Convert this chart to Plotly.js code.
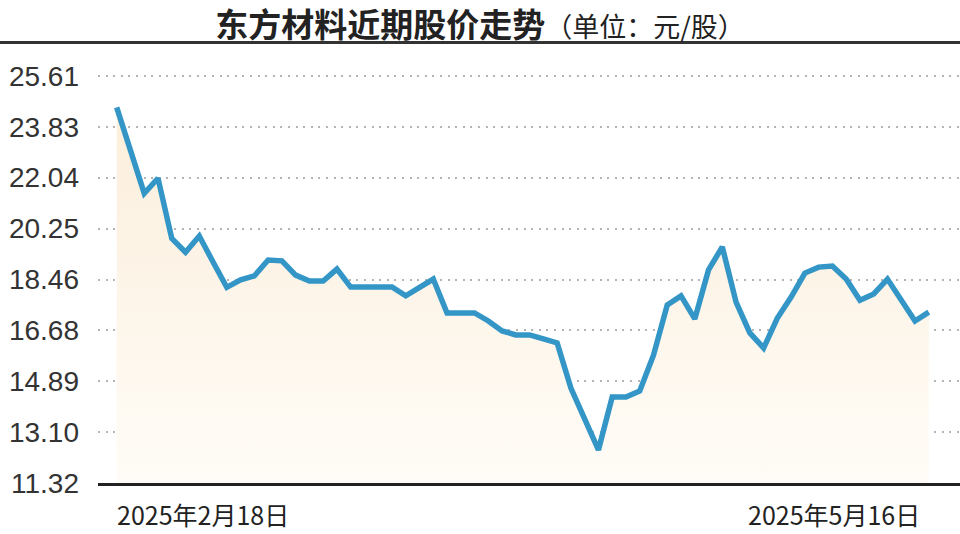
<!DOCTYPE html>
<html>
<head>
<meta charset="utf-8">
<script src="https://cdn.plot.ly/plotly-3.0.1.min.js"></script>
<style>html,body{margin:0;padding:0;background:#fff;}#chart{width:960px;height:534px;}</style>
</head>
<body>
<div id="chart"></div>
<script>
// Trading days (category axis)
const dates = [
  "2025-02-18","2025-02-19","2025-02-20","2025-02-21","2025-02-24","2025-02-25","2025-02-26","2025-02-27","2025-02-28",
  "2025-03-03","2025-03-04","2025-03-05","2025-03-06","2025-03-07","2025-03-10","2025-03-11","2025-03-12","2025-03-13","2025-03-14",
  "2025-03-17","2025-03-18","2025-03-19","2025-03-20","2025-03-21","2025-03-24","2025-03-25","2025-03-26","2025-03-27","2025-03-28","2025-03-31",
  "2025-04-01","2025-04-02","2025-04-03","2025-04-07","2025-04-08","2025-04-09","2025-04-10","2025-04-11","2025-04-14","2025-04-15",
  "2025-04-16","2025-04-17","2025-04-18","2025-04-21","2025-04-22","2025-04-23","2025-04-24","2025-04-25","2025-04-28","2025-04-29","2025-04-30",
  "2025-05-06","2025-05-07","2025-05-08","2025-05-09","2025-05-12","2025-05-13","2025-05-14","2025-05-15","2025-05-16"
];
// Closing prices (元/股)
const prices = [
  24.51, 22.96, 21.49, 22.02, 19.91, 19.42, 19.99, 19.08, 18.19, 18.45,
  18.59, 19.15, 19.12, 18.62, 18.41, 18.41, 18.83, 18.20, 18.20, 18.20,
  18.20, 17.89, 18.17, 18.48, 17.29, 17.29, 17.29, 17.01, 16.66, 16.52,
  16.52, 16.38, 16.24, 14.65, 13.57, 12.48, 14.34, 14.34, 14.55, 15.81,
  17.57, 17.89, 17.08, 18.80, 19.61, 17.67, 16.59, 16.06, 17.11, 17.85,
  18.69, 18.90, 18.94, 18.48, 17.74, 17.96, 18.48, 17.74, 17.01, 17.32
];
const yTickVals = [11.32, 13.10, 14.89, 16.68, 18.46, 20.25, 22.04, 23.83, 25.61];
const yTickText = ["11.32", "13.10", "14.89", "16.68", "18.46", "20.25", "22.04", "23.83", "25.61"];
const xLabels = ["2025年2月18日", "2025年5月16日"];
const titleMain = "东方材料近期股价走势";
const titleUnit = "（单位：元/股）";

const trace = {
  type: "scatter",
  mode: "lines",
  x: dates,
  y: prices,
  line: {color: "#3396c6", width: 5.5, shape: "linear"},
  fill: "tozeroy",
  fillgradient: {
    type: "vertical",
    start: 11.32,
    stop: 24.6,
    colorscale: [[0, "#fffcf7"], [1, "#fbeedb"]]
  },
  hoverinfo: "skip"
};

const layout = {
  width: 960,
  height: 534,
  margin: {l: 98, r: 0, t: 50, b: 51},
  paper_bgcolor: "#ffffff",
  plot_bgcolor: "#ffffff",
  showlegend: false,
  title: {
    text: "<b>" + titleMain + "</b><span style=\"font-size:27px;font-weight:normal\">" + titleUnit + "</span>",
    font: {family: "Noto Sans CJK SC", size: 33, color: "#222"},
    x: 0.5, xanchor: "center",
    y: 1 - 25/534, yanchor: "middle", yref: "container"
  },
  xaxis: {
    type: "category",
    range: [-1.359, 61.27],
    showgrid: false,
    zeroline: false,
    showline: true,
    linecolor: "#222",
    linewidth: 2.5,
    showticklabels: false,
    ticks: "",
    fixedrange: true
  },
  yaxis: {
    range: [11.32, 26.523],
    tickmode: "array",
    tickvals: yTickVals,
    ticktext: yTickText,
    showgrid: true,
    gridcolor: "#b4b4b4",
    gridwidth: 2,
    griddash: "2px,5.6px",
    zeroline: false,
    showline: false,
    ticks: "",
    ticklabelstandoff: 18,
    tickfont: {family: "Liberation Sans", size: 28, color: "#333"},
    fixedrange: true
  },
  shapes: [
    {type: "line", xref: "paper", yref: "paper", x0: -0.1137, x1: 1, y0: 1.0173, y1: 1.0173,
     line: {color: "#333", width: 3}}
  ],
  annotations: [
    {x: dates[0], y: -0.072, xref: "x", yref: "paper", xanchor: "left", yanchor: "middle",
     xshift: -2, text: xLabels[0], showarrow: false,
     font: {family: "Noto Sans CJK SC", size: 25, color: "#222"}},
    {x: dates[dates.length - 1], y: -0.072, xref: "x", yref: "paper", xanchor: "right", yanchor: "middle",
     xshift: -7, text: xLabels[1], showarrow: false,
     font: {family: "Noto Sans CJK SC", size: 25, color: "#222"}}
  ]
};

Plotly.newPlot("chart", [trace], layout, {staticPlot: true, displayModeBar: false});
</script>
</body>
</html>
